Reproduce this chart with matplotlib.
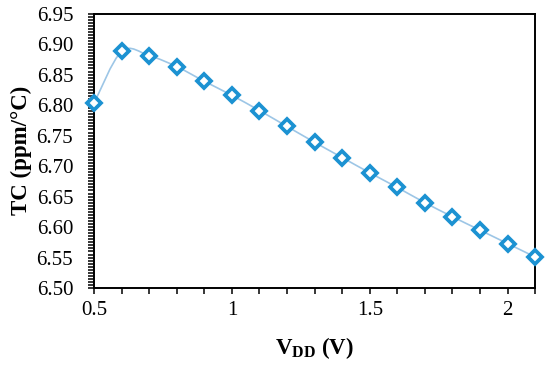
import matplotlib.pyplot as plt
import numpy as np
from matplotlib.path import Path
from matplotlib.patches import PathPatch
from matplotlib.ticker import MultipleLocator

# Data
vdd = [0.5, 0.6, 0.7, 0.8, 0.9, 1.0, 1.1, 1.2, 1.3, 1.4, 1.5, 1.6, 1.7, 1.8, 1.9, 2.0, 2.1]
tc = [6.803, 6.888, 6.881, 6.863, 6.839, 6.816, 6.791, 6.765, 6.739, 6.714,
      6.689, 6.665, 6.640, 6.617, 6.595, 6.573, 6.551]

plt.rcParams['font.family'] = ['Liberation Serif', 'DejaVu Serif']
plt.rcParams['mathtext.fontset'] = 'custom'
plt.rcParams['mathtext.rm'] = 'Liberation Serif'
plt.rcParams['mathtext.bf'] = 'Liberation Serif:bold'

fig = plt.figure(figsize=(5.5, 3.67), dpi=100)
ax = fig.add_axes([0.171, 0.215, 0.802, 0.748])

# Excel-style smoothed line (Catmull-Rom as cubic Bezier segments)
x = np.array(vdd)
y = np.array(tc)
verts = [(x[0], y[0])]
codes = [Path.MOVETO]
for i in range(len(x) - 1):
    p0 = np.array([x[max(i - 1, 0)], y[max(i - 1, 0)]])
    p1 = np.array([x[i], y[i]])
    p2 = np.array([x[i + 1], y[i + 1]])
    p3 = np.array([x[min(i + 2, len(x) - 1)], y[min(i + 2, len(x) - 1)]])
    c1 = p1 + (p2 - p0) / 6
    c2 = p2 - (p3 - p1) / 6
    verts += [tuple(c1), tuple(c2), tuple(p2)]
    codes += [Path.CURVE4] * 3
ax.add_patch(PathPatch(Path(verts, codes), facecolor='none', edgecolor='#9dc6e6', lw=1.2, zorder=2))

ax.plot(vdd, tc, linestyle='none', marker='D', markersize=7.5, markerfacecolor='white',
        markeredgecolor='#1c92d2', markeredgewidth=2.7, zorder=3, clip_on=False)

ax.set_xlim(0.5, 2.1)
ax.set_ylim(6.50, 6.95)
ax.xaxis.set_major_locator(MultipleLocator(0.5))
ax.xaxis.set_minor_locator(MultipleLocator(0.1))
ax.yaxis.set_major_locator(MultipleLocator(0.05))
ax.yaxis.set_minor_locator(MultipleLocator(0.005))
ax.yaxis.set_major_formatter(plt.FormatStrFormatter('%.2f'))
ax.xaxis.set_major_formatter(plt.FuncFormatter(lambda v, p: f'{v:g}'))

ax.tick_params(which='both', direction='out', length=4, width=1.1, labelsize=15)
ax.tick_params(axis='x', which='major', pad=5)
ax.tick_params(axis='y', which='major', pad=11)
for s in ax.spines.values():
    s.set_linewidth(1.4)

ax.set_xlabel(r'V$_{\mathbf{DD}}$ (V)', fontsize=16.5, fontweight='bold', labelpad=11)
ax.set_ylabel('TC (ppm/°C)', fontsize=16.5, fontweight='bold', labelpad=3)

fig.savefig('out.png', dpi=100)
